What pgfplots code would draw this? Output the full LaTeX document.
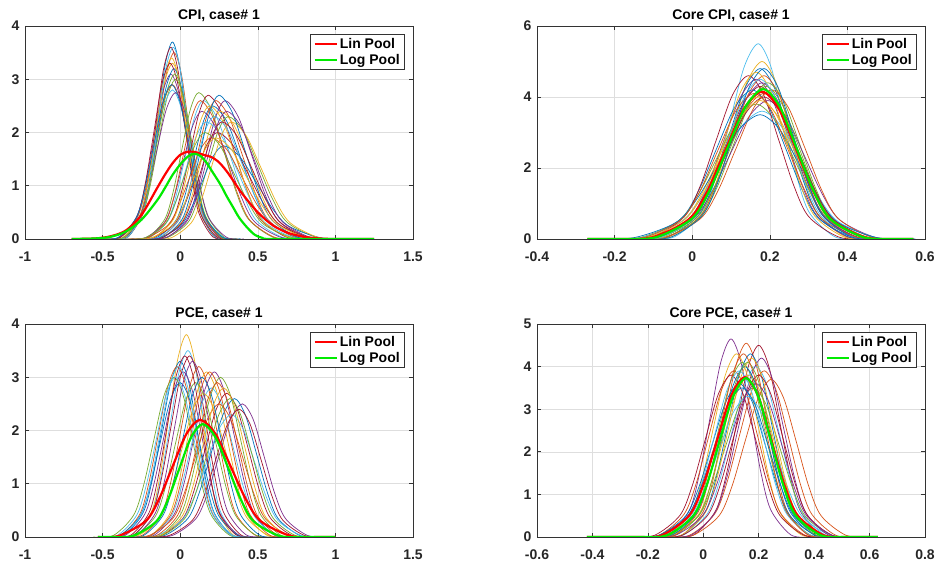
\documentclass[border=0pt]{standalone}
\usepackage{fontspec}
\setmainfont{Liberation Sans}
\usepackage{pgfplots}
\pgfplotsset{compat=1.18}
\definecolor{m1}{RGB}{0,114,189}
\definecolor{m2}{RGB}{217,83,25}
\definecolor{m3}{RGB}{237,177,32}
\definecolor{m4}{RGB}{126,47,142}
\definecolor{m5}{RGB}{119,172,48}
\definecolor{m6}{RGB}{77,190,238}
\definecolor{m7}{RGB}{162,20,47}
\newcommand\ff{\fontsize{14}{16}\selectfont\bfseries}
\newcommand{\cv}[2]{\addplot[color=#1, line width=0.7pt, smooth, forget plot] coordinates {#2};}
\pgfplotsset{
 panel/.style={scale only axis, width=388pt, height=213pt, anchor=south west,
  axis background/.style={fill=white},
  grid=major, grid style={black!13, line width=0.5pt},
  axis line style={black!80, line width=0.6pt},
  major tick style={black!80, line width=0.6pt}, major tick length=4pt, tick align=inside,
  ticklabel style={font=\ff, text=black!85},
  xticklabel style={yshift=-9pt}, yticklabel style={xshift=-2pt},
  title style={font=\ff, yshift=-5pt},
  legend style={at={(1,1)}, anchor=north east, xshift=-8pt, yshift=-8pt, draw=black!80, line width=0.6pt, font=\ff, inner xsep=3pt, inner ysep=2pt, row sep=0pt},
  legend cell align=left,
  legend image code/.code={\draw[##1] (0pt,0pt) -- (22pt,0pt);},
 },
 lin/.style={color=red, line width=2.2pt, smooth},
 log/.style={color={rgb,255:red,0;green,235;blue,0}, line width=2.2pt, smooth},
}
\begin{document}
\begin{tikzpicture}
\path[use as bounding box] (0pt,0pt) rectangle (940pt,567pt);
% ---------------- CPI ----------------
\begin{axis}[panel, at={(25pt,328pt)}, title={CPI, case\# 1},
 xmin=-1, xmax=1.5, ymin=0, ymax=4,
 xtick={-1,-0.5,0,0.5,1,1.5}, xticklabels={-1,-0.5,0,0.5,1,1.5},
 ytick={0,1,2,3,4}, yticklabels={0,1,2,3,4}]
\cv{m1}{(-0.43,0)(-0.335,0.04)(-0.24,0.50)(-0.193,1.20)(-0.145,2.25)(-0.098,3.26)(-0.05,3.7)(-0.005,3.26)(0.04,2.25)(0.085,1.20)(0.13,0.50)(0.22,0.04)(0.31,0)}
\cv{m2}{(-0.44,0)(-0.34,0.04)(-0.24,0.47)(-0.19,1.14)(-0.14,2.12)(-0.09,3.09)(-0.04,3.5)(0.008,3.09)(0.055,2.12)(0.103,1.14)(0.15,0.47)(0.245,0.04)(0.34,0)}
\cv{m3}{(-0.47,0)(-0.365,0.04)(-0.26,0.45)(-0.208,1.07)(-0.155,2.00)(-0.103,2.91)(-0.05,3.3)(0.0,2.91)(0.05,2.00)(0.1,1.07)(0.15,0.45)(0.25,0.04)(0.35,0)}
\cv{m4}{(-0.50,0)(-0.39,0.03)(-0.28,0.42)(-0.225,1.01)(-0.17,1.88)(-0.115,2.73)(-0.06,3.1)(-0.008,2.73)(0.045,1.88)(0.098,1.01)(0.15,0.42)(0.255,0.03)(0.36,0)}
\cv{m5}{(-0.47,0)(-0.36,0.03)(-0.25,0.41)(-0.195,0.98)(-0.14,1.82)(-0.085,2.65)(-0.03,3.0)(0.023,2.65)(0.075,1.82)(0.128,0.98)(0.18,0.41)(0.285,0.03)(0.39,0)}
\cv{m6}{(-0.51,0)(-0.395,0.03)(-0.28,0.38)(-0.223,0.91)(-0.165,1.70)(-0.108,2.47)(-0.05,2.8)(0.005,2.47)(0.06,1.70)(0.115,0.91)(0.17,0.38)(0.28,0.03)(0.39,0)}
\cv{m7}{(-0.44,0)(-0.345,0.04)(-0.25,0.49)(-0.203,1.17)(-0.155,2.19)(-0.108,3.18)(-0.06,3.6)(-0.015,3.18)(0.03,2.19)(0.075,1.17)(0.12,0.49)(0.21,0.04)(0.30,0)}
\cv{m1}{(-0.46,0)(-0.355,0.04)(-0.25,0.43)(-0.198,1.04)(-0.145,1.94)(-0.093,2.82)(-0.04,3.2)(0.01,2.82)(0.06,1.94)(0.11,1.04)(0.16,0.43)(0.26,0.04)(0.36,0)}
\cv{m2}{(-0.51,0)(-0.395,0.03)(-0.28,0.39)(-0.223,0.94)(-0.165,1.76)(-0.108,2.56)(-0.05,2.9)(0.003,2.56)(0.055,1.76)(0.108,0.94)(0.16,0.39)(0.265,0.03)(0.37,0)}
\cv{m3}{(-0.455,0)(-0.355,0.04)(-0.255,0.46)(-0.205,1.11)(-0.155,2.06)(-0.105,3.00)(-0.055,3.4)(-0.008,3.00)(0.04,2.06)(0.088,1.11)(0.135,0.46)(0.23,0.04)(0.325,0)}
\cv{m4}{(-0.51,0)(-0.39,0.03)(-0.27,0.37)(-0.21,0.89)(-0.15,1.67)(-0.09,2.43)(-0.03,2.75)(0.025,2.43)(0.08,1.67)(0.135,0.89)(0.19,0.37)(0.30,0.03)(0.41,0)}
\cv{m6}{(-0.437,0)(-0.339,0.04)(-0.241,0.49)(-0.192,1.17)(-0.143,2.19)(-0.094,3.18)(-0.045,3.6)(0.001,3.18)(0.047,2.19)(0.093,1.17)(0.139,0.49)(0.231,0.04)(0.323,0)}
\cv{m7}{(-0.485,0)(-0.38,0.04)(-0.275,0.45)(-0.223,1.07)(-0.17,2.00)(-0.118,2.91)(-0.065,3.3)(-0.015,2.91)(0.035,2.00)(0.085,1.07)(0.135,0.45)(0.235,0.04)(0.335,0)}
\cv{m5}{(-0.475,0)(-0.365,0.03)(-0.255,0.42)(-0.2,1.01)(-0.145,1.88)(-0.09,2.73)(-0.035,3.1)(0.015,2.73)(0.065,1.88)(0.115,1.01)(0.165,0.42)(0.265,0.03)(0.365,0)}
\cv{m1}{(-0.515,0)(-0.40,0.03)(-0.285,0.39)(-0.228,0.94)(-0.17,1.76)(-0.113,2.56)(-0.055,2.9)(0.0,2.56)(0.055,1.76)(0.11,0.94)(0.165,0.39)(0.275,0.03)(0.385,0)}
\cv{m5}{(-0.32,0)(-0.21,0.03)(-0.10,0.37)(-0.045,0.89)(0.01,1.67)(0.065,2.43)(0.12,2.75)(0.20,2.43)(0.28,1.67)(0.36,0.89)(0.44,0.37)(0.60,0.03)(0.76,0)}
\cv{m6}{(-0.31,0)(-0.195,0.03)(-0.08,0.35)(-0.023,0.85)(0.035,1.58)(0.093,2.29)(0.15,2.6)(0.235,2.29)(0.32,1.58)(0.405,0.85)(0.49,0.35)(0.66,0.03)(0.83,0)}
\cv{m7}{(-0.28,0)(-0.165,0.03)(-0.05,0.36)(0.008,0.88)(0.065,1.64)(0.123,2.38)(0.18,2.7)(0.265,2.38)(0.35,1.64)(0.435,0.88)(0.52,0.36)(0.69,0.03)(0.86,0)}
\cv{m1}{(-0.27,0)(-0.15,0.03)(-0.03,0.34)(0.03,0.81)(0.09,1.52)(0.15,2.21)(0.21,2.5)(0.30,2.21)(0.39,1.52)(0.48,0.81)(0.57,0.34)(0.75,0.03)(0.93,0)}
\cv{m2}{(-0.25,0)(-0.13,0.03)(-0.01,0.35)(0.05,0.85)(0.11,1.58)(0.17,2.29)(0.23,2.6)(0.315,2.29)(0.40,1.58)(0.485,0.85)(0.57,0.35)(0.74,0.03)(0.91,0)}
\cv{m3}{(-0.24,0)(-0.115,0.03)(0.01,0.32)(0.073,0.78)(0.135,1.46)(0.198,2.12)(0.26,2.4)(0.35,2.12)(0.44,1.46)(0.53,0.78)(0.62,0.32)(0.80,0.03)(0.98,0)}
\cv{m4}{(-0.21,0)(-0.085,0.03)(0.04,0.35)(0.103,0.85)(0.165,1.58)(0.228,2.29)(0.29,2.6)(0.375,2.29)(0.46,1.58)(0.545,0.85)(0.63,0.35)(0.80,0.03)(0.97,0)}
\cv{m5}{(-0.21,0)(-0.08,0.03)(0.05,0.31)(0.115,0.75)(0.18,1.40)(0.245,2.03)(0.31,2.3)(0.405,2.03)(0.50,1.40)(0.595,0.75)(0.69,0.31)(0.88,0.03)(1.07,0)}
\cv{m6}{(-0.35,0)(-0.22,0.02)(-0.09,0.30)(-0.025,0.72)(0.04,1.34)(0.105,1.94)(0.17,2.2)(0.265,1.94)(0.36,1.34)(0.455,0.72)(0.55,0.30)(0.74,0.02)(0.93,0)}
\cv{m7}{(-0.32,0)(-0.18,0.02)(-0.04,0.27)(0.03,0.65)(0.10,1.21)(0.17,1.76)(0.24,2.0)(0.34,1.76)(0.44,1.21)(0.54,0.65)(0.64,0.27)(0.84,0.02)(1.04,0)}
\cv{m1}{(-0.28,0)(-0.14,0.02)(0.0,0.24)(0.07,0.57)(0.14,1.06)(0.21,1.54)(0.28,1.75)(0.385,1.54)(0.49,1.06)(0.595,0.57)(0.70,0.24)(0.91,0.02)(1.12,0)}
\cv{m2}{(-0.36,0)(-0.22,0.02)(-0.08,0.26)(-0.01,0.62)(0.06,1.15)(0.13,1.68)(0.20,1.9)(0.30,1.68)(0.40,1.15)(0.50,0.62)(0.60,0.26)(0.80,0.02)(1.00,0)}
\cv{m3}{(-0.19,0)(-0.06,0.02)(0.07,0.30)(0.135,0.72)(0.20,1.34)(0.265,1.94)(0.33,2.2)(0.425,1.94)(0.52,1.34)(0.615,0.72)(0.71,0.30)(0.90,0.02)(1.09,0)}
\cv{m4}{(-0.34,0)(-0.22,0.03)(-0.10,0.32)(-0.04,0.78)(0.02,1.46)(0.08,2.12)(0.14,2.4)(0.225,2.12)(0.31,1.46)(0.395,0.78)(0.48,0.32)(0.65,0.03)(0.82,0)}
\cv{m2}{(-0.31,0)(-0.20,0.03)(-0.09,0.35)(-0.035,0.85)(0.02,1.58)(0.075,2.29)(0.13,2.6)(0.21,2.29)(0.29,1.58)(0.37,0.85)(0.45,0.35)(0.61,0.03)(0.77,0)}
\cv{m3}{(-0.29,0)(-0.17,0.03)(-0.05,0.34)(0.01,0.81)(0.07,1.52)(0.13,2.21)(0.19,2.5)(0.275,2.21)(0.36,1.52)(0.445,0.81)(0.53,0.34)(0.70,0.03)(0.87,0)}
\cv{m6}{(-0.26,0)(-0.14,0.03)(-0.02,0.31)(0.04,0.75)(0.10,1.40)(0.16,2.03)(0.22,2.3)(0.31,2.03)(0.40,1.40)(0.49,0.75)(0.58,0.31)(0.76,0.03)(0.94,0)}
\cv{m1}{(-0.23,0)(-0.11,0.03)(0.01,0.36)(0.07,0.88)(0.13,1.64)(0.19,2.38)(0.25,2.7)(0.335,2.38)(0.42,1.64)(0.505,0.88)(0.59,0.36)(0.76,0.03)(0.93,0)}
\cv{m7}{(-0.25,0)(-0.12,0.02)(0.01,0.30)(0.075,0.72)(0.14,1.34)(0.205,1.94)(0.27,2.2)(0.365,1.94)(0.46,1.34)(0.555,0.72)(0.65,0.30)(0.84,0.02)(1.03,0)}
\cv{m5}{(-0.36,0)(-0.23,0.02)(-0.10,0.27)(-0.035,0.65)(0.03,1.21)(0.095,1.76)(0.16,2.0)(0.255,1.76)(0.35,1.21)(0.445,0.65)(0.54,0.27)(0.73,0.02)(0.92,0)}
\cv{m4}{(-0.22,0)(-0.09,0.03)(0.04,0.32)(0.105,0.78)(0.17,1.46)(0.235,2.12)(0.30,2.4)(0.39,2.12)(0.48,1.46)(0.57,0.78)(0.66,0.32)(0.84,0.03)(1.02,0)}
\cv{m3}{(-0.33,0)(-0.19,0.02)(-0.05,0.26)(0.02,0.62)(0.09,1.15)(0.16,1.68)(0.23,1.9)(0.33,1.68)(0.43,1.15)(0.53,0.62)(0.63,0.26)(0.83,0.02)(1.03,0)}
\addplot[lin] coordinates {(-0.7,0)(-0.55,0.01)(-0.45,0.05)(-0.35,0.16)(-0.25,0.45)(-0.15,0.95)(-0.1,1.2)(-0.05,1.42)(0,1.58)(0.05,1.64)(0.1,1.63)(0.15,1.58)(0.2,1.54)(0.25,1.44)(0.3,1.27)(0.35,1.06)(0.4,0.85)(0.5,0.5)(0.6,0.25)(0.7,0.11)(0.8,0.04)(0.9,0.01)(1.0,0)(1.25,0)};
\addlegendentry{Lin Pool}
\addplot[log] coordinates {(-0.7,0)(-0.55,0.01)(-0.45,0.04)(-0.35,0.14)(-0.25,0.36)(-0.15,0.72)(-0.1,0.95)(-0.05,1.2)(0,1.4)(0.05,1.55)(0.09,1.6)(0.13,1.56)(0.17,1.43)(0.21,1.25)(0.26,1.02)(0.3,0.8)(0.34,0.6)(0.38,0.4)(0.43,0.22)(0.48,0.08)(0.53,0.02)(0.6,0.0)(1.25,0)};
\addlegendentry{Log Pool}
\end{axis}
% ---------------- Core CPI ----------------
\begin{axis}[panel, at={(537pt,328pt)}, title={Core CPI, case\# 1},
 xmin=-0.4, xmax=0.6, ymin=0, ymax=6,
 xtick={-0.4,-0.2,0,0.2,0.4,0.6}, xticklabels={-0.4,-0.2,0,0.2,0.4,0.6},
 ytick={0,2,4,6}, yticklabels={0,2,4,6}]
\cv{m6}{(-0.118,0)(-0.046,0.06)(0.026,0.74)(0.062,1.79)(0.098,3.34)(0.134,4.85)(0.17,5.5)(0.203,4.85)(0.236,3.34)(0.269,1.79)(0.302,0.74)(0.368,0.06)(0.434,0)}
\cv{m3}{(-0.132,0)(-0.054,0.06)(0.024,0.68)(0.063,1.63)(0.102,3.04)(0.141,4.41)(0.18,5.0)(0.216,4.41)(0.252,3.04)(0.288,1.63)(0.324,0.68)(0.396,0.06)(0.468,0)}
\cv{m1}{(-0.145,0)(-0.065,0.05)(0.015,0.65)(0.055,1.56)(0.095,2.91)(0.135,4.23)(0.175,4.8)(0.213,4.23)(0.251,2.91)(0.289,1.56)(0.327,0.65)(0.403,0.05)(0.479,0)}
\cv{m2}{(-0.147,0)(-0.064,0.05)(0.019,0.62)(0.061,1.50)(0.102,2.79)(0.144,4.06)(0.185,4.6)(0.224,4.06)(0.263,2.79)(0.302,1.50)(0.341,0.62)(0.419,0.05)(0.497,0)}
\cv{m4}{(-0.175,0)(-0.09,0.05)(-0.005,0.61)(0.038,1.46)(0.08,2.73)(0.123,3.97)(0.165,4.5)(0.205,3.97)(0.245,2.73)(0.285,1.46)(0.325,0.61)(0.405,0.05)(0.485,0)}
\cv{m5}{(-0.157,0)(-0.069,0.05)(0.019,0.59)(0.063,1.43)(0.107,2.67)(0.151,3.88)(0.195,4.4)(0.236,3.88)(0.277,2.67)(0.318,1.43)(0.359,0.59)(0.441,0.05)(0.523,0)}
\cv{m7}{(-0.185,0)(-0.095,0.05)(-0.005,0.58)(0.04,1.40)(0.085,2.61)(0.13,3.79)(0.175,4.3)(0.217,3.79)(0.259,2.61)(0.301,1.40)(0.343,0.58)(0.427,0.05)(0.511,0)}
\cv{m1}{(-0.213,0)(-0.121,0.05)(-0.029,0.57)(0.017,1.37)(0.063,2.55)(0.109,3.70)(0.155,4.2)(0.198,3.70)(0.241,2.55)(0.284,1.37)(0.327,0.57)(0.413,0.05)(0.499,0)}
\cv{m2}{(-0.191,0)(-0.097,0.05)(-0.003,0.55)(0.044,1.33)(0.091,2.49)(0.138,3.62)(0.185,4.1)(0.229,3.62)(0.273,2.49)(0.317,1.33)(0.361,0.55)(0.449,0.05)(0.537,0)}
\cv{m3}{(-0.214,0)(-0.118,0.04)(-0.022,0.54)(0.026,1.30)(0.074,2.43)(0.122,3.53)(0.17,4.0)(0.215,3.53)(0.26,2.43)(0.305,1.30)(0.35,0.54)(0.44,0.04)(0.53,0)}
\cv{m4}{(-0.197,0)(-0.099,0.04)(-0.001,0.53)(0.048,1.27)(0.097,2.37)(0.146,3.44)(0.195,3.9)(0.242,3.44)(0.288,2.37)(0.335,1.27)(0.381,0.53)(0.474,0.04)(0.567,0)}
\cv{m5}{(-0.235,0)(-0.135,0.04)(-0.035,0.51)(0.015,1.24)(0.065,2.31)(0.115,3.35)(0.165,3.8)(0.213,3.35)(0.26,2.31)(0.308,1.24)(0.355,0.51)(0.45,0.04)(0.545,0)}
\cv{m6}{(-0.236,0)(-0.132,0.04)(-0.028,0.49)(0.024,1.17)(0.076,2.19)(0.128,3.18)(0.18,3.6)(0.229,3.18)(0.278,2.19)(0.327,1.17)(0.376,0.49)(0.474,0.04)(0.572,0)}
\cv{m7}{(-0.187,0)(-0.104,0.05)(-0.021,0.62)(0.021,1.50)(0.062,2.79)(0.104,4.06)(0.145,4.6)(0.184,4.06)(0.223,2.79)(0.262,1.50)(0.301,0.62)(0.379,0.05)(0.457,0)}
\cv{m2}{(-0.163,0)(-0.071,0.05)(0.021,0.57)(0.067,1.37)(0.113,2.55)(0.159,3.70)(0.205,4.2)(0.248,3.70)(0.291,2.55)(0.334,1.37)(0.377,0.57)(0.463,0.05)(0.549,0)}
\cv{m1}{(-0.257,0)(-0.149,0.04)(-0.041,0.47)(0.013,1.14)(0.067,2.12)(0.121,3.09)(0.175,3.5)(0.225,3.09)(0.275,2.12)(0.325,1.14)(0.375,0.47)(0.475,0.04)(0.575,0)}
\cv{m3}{(-0.155,0)(-0.075,0.05)(0.005,0.63)(0.045,1.53)(0.085,2.85)(0.125,4.15)(0.165,4.7)(0.203,4.15)(0.241,2.85)(0.279,1.53)(0.317,0.63)(0.393,0.05)(0.469,0)}
\cv{m4}{(-0.172,0)(-0.084,0.05)(0.004,0.59)(0.048,1.43)(0.092,2.67)(0.136,3.88)(0.18,4.4)(0.221,3.88)(0.262,2.67)(0.303,1.43)(0.344,0.59)(0.426,0.05)(0.508,0)}
\cv{m5}{(-0.17,0)(-0.08,0.05)(0.01,0.58)(0.055,1.40)(0.10,2.61)(0.145,3.79)(0.19,4.3)(0.232,3.79)(0.274,2.61)(0.316,1.40)(0.358,0.58)(0.442,0.05)(0.526,0)}
\cv{m6}{(-0.165,0)(-0.08,0.05)(0.005,0.61)(0.048,1.46)(0.09,2.73)(0.133,3.97)(0.175,4.5)(0.215,3.97)(0.255,2.73)(0.295,1.46)(0.335,0.61)(0.415,0.05)(0.495,0)}
\cv{m7}{(-0.199,0)(-0.103,0.04)(-0.007,0.54)(0.041,1.30)(0.089,2.43)(0.137,3.53)(0.185,4.0)(0.23,3.53)(0.275,2.43)(0.32,1.30)(0.365,0.54)(0.455,0.04)(0.545,0)}
\cv{m2}{(-0.216,0)(-0.122,0.05)(-0.028,0.55)(0.019,1.33)(0.066,2.49)(0.113,3.62)(0.16,4.1)(0.204,3.62)(0.248,2.49)(0.292,1.33)(0.336,0.55)(0.424,0.05)(0.512,0)}
\cv{m3}{(-0.217,0)(-0.119,0.04)(-0.021,0.53)(0.028,1.27)(0.077,2.37)(0.126,3.44)(0.175,3.9)(0.222,3.44)(0.268,2.37)(0.315,1.27)(0.361,0.53)(0.454,0.04)(0.547,0)}
\cv{m1}{(-0.135,0)(-0.055,0.05)(0.025,0.65)(0.065,1.56)(0.105,2.91)(0.145,4.23)(0.185,4.8)(0.223,4.23)(0.261,2.91)(0.299,1.56)(0.337,0.65)(0.413,0.05)(0.489,0)}
\addplot[lin] coordinates {(-0.27,0)(-0.196,0.001)(-0.102,0.05)(-0.008,0.56)(0.039,1.35)(0.086,2.52)(0.133,3.66)(0.18,4.15)(0.224,3.66)(0.268,2.52)(0.312,1.35)(0.356,0.56)(0.444,0.05)(0.532,0.001)(0.57,0)};
\addlegendentry{Lin Pool}
\addplot[log] coordinates {(-0.27,0)(-0.185,0.001)(-0.093,0.05)(-0.001,0.57)(0.045,1.37)(0.091,2.56)(0.137,3.72)(0.183,4.22)(0.226,3.72)(0.269,2.56)(0.312,1.37)(0.355,0.57)(0.441,0.05)(0.527,0.001)(0.57,0)};
\addlegendentry{Log Pool}
\end{axis}
% ---------------- PCE ----------------
\begin{axis}[panel, at={(25pt,30pt)}, title={PCE, case\# 1},
 xmin=-1, xmax=1.5, ymin=0, ymax=4,
 xtick={-1,-0.5,0,0.5,1,1.5}, xticklabels={-1,-0.5,0,0.5,1,1.5},
 ytick={0,1,2,3,4}, yticklabels={0,1,2,3,4}]
\cv{m3}{(-0.40,0)(-0.29,0.04)(-0.18,0.51)(-0.125,1.24)(-0.07,2.31)(-0.015,3.35)(0.04,3.8)(0.09,3.35)(0.14,2.31)(0.19,1.24)(0.24,0.51)(0.34,0.04)(0.44,0)}
\cv{m1}{(-0.48,0)(-0.36,0.04)(-0.24,0.45)(-0.18,1.07)(-0.12,2.00)(-0.06,2.91)(0,3.3)(0.055,2.91)(0.11,2.00)(0.165,1.07)(0.22,0.45)(0.33,0.04)(0.44,0)}
\cv{m2}{(-0.50,0)(-0.38,0.04)(-0.26,0.43)(-0.20,1.04)(-0.14,1.94)(-0.08,2.82)(-0.02,3.2)(0.038,2.82)(0.095,1.94)(0.153,1.04)(0.21,0.43)(0.325,0.04)(0.44,0)}
\cv{m6}{(-0.41,0)(-0.295,0.04)(-0.18,0.47)(-0.123,1.14)(-0.065,2.12)(-0.008,3.09)(0.05,3.5)(0.103,3.09)(0.155,2.12)(0.208,1.14)(0.26,0.47)(0.365,0.04)(0.47,0)}
\cv{m4}{(-0.48,0)(-0.355,0.03)(-0.23,0.42)(-0.168,1.01)(-0.105,1.88)(-0.043,2.73)(0.02,3.1)(0.08,2.73)(0.14,1.88)(0.20,1.01)(0.26,0.42)(0.38,0.03)(0.50,0)}
\cv{m5}{(-0.56,0)(-0.43,0.03)(-0.30,0.41)(-0.235,0.98)(-0.17,1.82)(-0.105,2.65)(-0.04,3.0)(0.02,2.65)(0.08,1.82)(0.14,0.98)(0.20,0.41)(0.32,0.03)(0.44,0)}
\cv{m7}{(-0.42,0)(-0.30,0.04)(-0.18,0.46)(-0.12,1.11)(-0.06,2.06)(0.0,3.00)(0.06,3.4)(0.115,3.00)(0.17,2.06)(0.225,1.11)(0.28,0.46)(0.39,0.04)(0.50,0)}
\cv{m1}{(-0.52,0)(-0.39,0.03)(-0.26,0.39)(-0.195,0.94)(-0.13,1.76)(-0.065,2.56)(0,2.9)(0.063,2.56)(0.125,1.76)(0.188,0.94)(0.25,0.39)(0.375,0.03)(0.50,0)}
\cv{m2}{(-0.36,0)(-0.24,0.04)(-0.12,0.43)(-0.06,1.04)(0.0,1.94)(0.06,2.82)(0.12,3.2)(0.18,2.82)(0.24,1.94)(0.30,1.04)(0.36,0.43)(0.48,0.04)(0.60,0)}
\cv{m3}{(-0.31,0)(-0.19,0.03)(-0.07,0.42)(-0.01,1.01)(0.05,1.88)(0.11,2.73)(0.17,3.1)(0.235,2.73)(0.30,1.88)(0.365,1.01)(0.43,0.42)(0.56,0.03)(0.69,0)}
\cv{m4}{(-0.30,0)(-0.17,0.03)(-0.04,0.42)(0.025,1.01)(0.09,1.88)(0.155,2.73)(0.22,3.1)(0.285,2.73)(0.35,1.88)(0.415,1.01)(0.48,0.42)(0.61,0.03)(0.74,0)}
\cv{m5}{(-0.26,0)(-0.13,0.03)(0.0,0.41)(0.065,0.98)(0.13,1.82)(0.195,2.65)(0.26,3.0)(0.325,2.65)(0.39,1.82)(0.455,0.98)(0.52,0.41)(0.65,0.03)(0.78,0)}
\cv{m6}{(-0.32,0)(-0.19,0.03)(-0.06,0.38)(0.005,0.91)(0.07,1.70)(0.135,2.47)(0.20,2.8)(0.27,2.47)(0.34,1.70)(0.41,0.91)(0.48,0.38)(0.62,0.03)(0.76,0)}
\cv{m7}{(-0.26,0)(-0.12,0.03)(0.02,0.36)(0.09,0.88)(0.16,1.64)(0.23,2.38)(0.30,2.7)(0.37,2.38)(0.44,1.64)(0.51,0.88)(0.58,0.36)(0.72,0.03)(0.86,0)}
\cv{m1}{(-0.25,0)(-0.10,0.03)(0.05,0.35)(0.125,0.85)(0.20,1.58)(0.275,2.29)(0.35,2.6)(0.42,2.29)(0.49,1.58)(0.56,0.85)(0.63,0.35)(0.77,0.03)(0.91,0)}
\cv{m4}{(-0.20,0)(-0.05,0.03)(0.10,0.34)(0.175,0.81)(0.25,1.52)(0.325,2.21)(0.40,2.5)(0.47,2.21)(0.54,1.52)(0.61,0.81)(0.68,0.34)(0.82,0.03)(0.96,0)}
\cv{m2}{(-0.35,0)(-0.20,0.03)(-0.05,0.34)(0.025,0.81)(0.10,1.52)(0.175,2.21)(0.25,2.5)(0.325,2.21)(0.40,1.52)(0.475,0.81)(0.55,0.34)(0.70,0.03)(0.85,0)}
\cv{m3}{(-0.41,0)(-0.27,0.03)(-0.13,0.36)(-0.06,0.88)(0.01,1.64)(0.08,2.38)(0.15,2.7)(0.22,2.38)(0.29,1.64)(0.36,0.88)(0.43,0.36)(0.57,0.03)(0.71,0)}
\cv{m6}{(-0.31,0)(-0.15,0.03)(0.01,0.31)(0.09,0.75)(0.17,1.40)(0.25,2.03)(0.33,2.3)(0.405,2.03)(0.48,1.40)(0.555,0.75)(0.63,0.31)(0.78,0.03)(0.93,0)}
\cv{m5}{(-0.42,0)(-0.29,0.03)(-0.16,0.39)(-0.095,0.94)(-0.03,1.76)(0.035,2.56)(0.10,2.9)(0.165,2.56)(0.23,1.76)(0.295,0.94)(0.36,0.39)(0.49,0.03)(0.62,0)}
\cv{m7}{(-0.43,0)(-0.315,0.04)(-0.20,0.46)(-0.143,1.11)(-0.085,2.06)(-0.028,3.00)(0.03,3.4)(0.085,3.00)(0.14,2.06)(0.195,1.11)(0.25,0.46)(0.36,0.04)(0.47,0)}
\cv{m6}{(-0.49,0)(-0.37,0.04)(-0.25,0.43)(-0.19,1.04)(-0.13,1.94)(-0.07,2.82)(-0.01,3.2)(0.048,2.82)(0.105,1.94)(0.163,1.04)(0.22,0.43)(0.335,0.04)(0.45,0)}
\cv{m4}{(-0.40,0)(-0.28,0.04)(-0.16,0.45)(-0.10,1.07)(-0.04,2.00)(0.02,2.91)(0.08,3.3)(0.138,2.91)(0.195,2.00)(0.253,1.07)(0.31,0.45)(0.425,0.04)(0.54,0)}
\cv{m1}{(-0.36,0)(-0.235,0.03)(-0.11,0.41)(-0.048,0.98)(0.015,1.82)(0.078,2.65)(0.14,3.0)(0.203,2.65)(0.265,1.82)(0.328,0.98)(0.39,0.41)(0.515,0.03)(0.64,0)}
\cv{m2}{(-0.28,0)(-0.15,0.03)(-0.02,0.39)(0.045,0.94)(0.11,1.76)(0.175,2.56)(0.24,2.9)(0.305,2.56)(0.37,1.76)(0.435,0.94)(0.50,0.39)(0.63,0.03)(0.76,0)}
\cv{m3}{(-0.26,0)(-0.125,0.03)(0.01,0.38)(0.078,0.91)(0.145,1.70)(0.213,2.47)(0.28,2.8)(0.348,2.47)(0.415,1.70)(0.483,0.91)(0.55,0.38)(0.685,0.03)(0.82,0)}
\cv{m5}{(-0.26,0)(-0.115,0.03)(0.03,0.35)(0.103,0.85)(0.175,1.58)(0.248,2.29)(0.32,2.6)(0.39,2.29)(0.46,1.58)(0.53,0.85)(0.60,0.35)(0.74,0.03)(0.88,0)}
\cv{m7}{(-0.22,0)(-0.07,0.03)(0.08,0.32)(0.155,0.78)(0.23,1.46)(0.305,2.12)(0.38,2.4)(0.45,2.12)(0.52,1.46)(0.59,0.78)(0.66,0.32)(0.80,0.03)(0.94,0)}
\cv{m2}{(-0.31,0)(-0.185,0.03)(-0.06,0.42)(0.003,1.01)(0.065,1.88)(0.128,2.73)(0.19,3.1)(0.255,2.73)(0.32,1.88)(0.385,1.01)(0.45,0.42)(0.58,0.03)(0.71,0)}
\cv{m6}{(-0.53,0)(-0.405,0.03)(-0.28,0.41)(-0.218,0.98)(-0.155,1.82)(-0.093,2.65)(-0.03,3.0)(0.03,2.65)(0.09,1.82)(0.15,0.98)(0.21,0.41)(0.33,0.03)(0.45,0)}
\addplot[lin] coordinates {(-0.53,0)(-0.397,0.02)(-0.222,0.30)(-0.135,0.72)(-0.047,1.34)(0.041,1.94)(0.128,2.2)(0.226,1.94)(0.323,1.34)(0.421,0.72)(0.518,0.30)(0.713,0.02)(0.908,0)(1.0,0)};
\addlegendentry{Lin Pool}
\addplot[log] coordinates {(-0.53,0)(-0.455,0.001)(-0.305,0.02)(-0.155,0.29)(-0.08,0.69)(-0.005,1.29)(0.07,1.87)(0.145,2.12)(0.228,1.87)(0.31,1.29)(0.393,0.69)(0.475,0.29)(0.64,0.02)(0.805,0.001)(1.0,0)};
\addlegendentry{Log Pool}
\end{axis}
% ---------------- Core PCE ----------------
\begin{axis}[panel, at={(537pt,30pt)}, title={Core PCE, case\# 1},
 xmin=-0.6, xmax=0.8, ymin=0, ymax=5,
 xtick={-0.6,-0.4,-0.2,0,0.2,0.4,0.6,0.8}, xticklabels={-0.6,-0.4,-0.2,0,0.2,0.4,0.6,0.8},
 ytick={0,1,2,3,4,5}, yticklabels={0,1,2,3,4,5}]
\cv{m4}{(-0.2,0)(-0.125,0.05)(-0.05,0.63)(-0.013,1.51)(0.025,2.82)(0.063,4.10)(0.1,4.65)(0.136,4.10)(0.172,2.82)(0.208,1.51)(0.244,0.63)(0.316,0.05)(0.388,0)}
\cv{m2}{(-0.153,0)(-0.076,0.05)(0.001,0.61)(0.04,1.48)(0.078,2.76)(0.117,4.01)(0.155,4.55)(0.192,4.01)(0.229,2.76)(0.266,1.48)(0.303,0.61)(0.377,0.05)(0.451,0)}
\cv{m7}{(-0.112,0)(-0.034,0.05)(0.044,0.61)(0.083,1.46)(0.122,2.73)(0.161,3.97)(0.2,4.5)(0.238,3.97)(0.275,2.73)(0.313,1.46)(0.35,0.61)(0.425,0.05)(0.5,0)}
\cv{m3}{(-0.208,0)(-0.126,0.05)(-0.044,0.58)(-0.003,1.40)(0.038,2.61)(0.079,3.79)(0.12,4.3)(0.159,3.79)(0.198,2.61)(0.237,1.40)(0.276,0.58)(0.354,0.05)(0.432,0)}
\cv{m1}{(-0.158,0)(-0.076,0.05)(0.006,0.58)(0.047,1.40)(0.088,2.61)(0.129,3.79)(0.17,4.3)(0.209,3.79)(0.248,2.61)(0.287,1.40)(0.326,0.58)(0.404,0.05)(0.482,0)}
\cv{m5}{(-0.204,0)(-0.118,0.05)(-0.032,0.55)(0.011,1.33)(0.054,2.49)(0.097,3.62)(0.14,4.1)(0.181,3.62)(0.222,2.49)(0.263,1.33)(0.304,0.55)(0.386,0.05)(0.468,0)}
\cv{m6}{(-0.162,0)(-0.074,0.04)(0.014,0.54)(0.058,1.30)(0.102,2.43)(0.146,3.53)(0.19,4.0)(0.232,3.53)(0.274,2.43)(0.316,1.30)(0.358,0.54)(0.442,0.04)(0.526,0)}
\cv{m2}{(-0.25,0)(-0.16,0.04)(-0.07,0.53)(-0.025,1.27)(0.02,2.37)(0.065,3.44)(0.11,3.9)(0.153,3.44)(0.196,2.37)(0.239,1.27)(0.282,0.53)(0.368,0.04)(0.454,0)}
\cv{m3}{(-0.203,0)(-0.111,0.04)(-0.019,0.51)(0.027,1.24)(0.073,2.31)(0.119,3.35)(0.165,3.8)(0.209,3.35)(0.253,2.31)(0.297,1.24)(0.341,0.51)(0.429,0.04)(0.517,0)}
\cv{m2}{(-0.14,0)(-0.05,0.04)(0.04,0.53)(0.085,1.27)(0.13,2.37)(0.175,3.44)(0.22,3.9)(0.263,3.44)(0.306,2.37)(0.349,1.27)(0.392,0.53)(0.478,0.04)(0.564,0)}
\cv{m1}{(-0.258,0)(-0.161,0.04)(-0.064,0.49)(-0.016,1.17)(0.033,2.19)(0.082,3.18)(0.13,3.6)(0.176,3.18)(0.222,2.19)(0.268,1.17)(0.314,0.49)(0.406,0.04)(0.498,0)}
\cv{m5}{(-0.22,0)(-0.12,0.04)(-0.02,0.47)(0.03,1.14)(0.08,2.12)(0.13,3.09)(0.18,3.5)(0.228,3.09)(0.275,2.12)(0.323,1.14)(0.37,0.47)(0.465,0.04)(0.56,0)}
\cv{m2}{(-0.131,0)(-0.037,0.04)(0.057,0.50)(0.104,1.20)(0.151,2.25)(0.198,3.26)(0.245,3.7)(0.29,3.26)(0.335,2.25)(0.38,1.20)(0.425,0.50)(0.515,0.04)(0.605,0)}
\cv{m6}{(-0.264,0)(-0.158,0.04)(-0.052,0.45)(0.001,1.07)(0.054,2.00)(0.107,2.91)(0.16,3.3)(0.21,2.91)(0.26,2.00)(0.31,1.07)(0.36,0.45)(0.46,0.04)(0.56,0)}
\cv{m7}{(-0.268,0)(-0.176,0.04)(-0.084,0.51)(-0.038,1.24)(0.008,2.31)(0.054,3.35)(0.1,3.8)(0.144,3.35)(0.188,2.31)(0.232,1.24)(0.276,0.51)(0.364,0.04)(0.452,0)}
\cv{m4}{(-0.126,0)(-0.042,0.05)(0.042,0.57)(0.084,1.37)(0.126,2.55)(0.168,3.70)(0.21,4.2)(0.25,3.70)(0.29,2.55)(0.33,1.37)(0.37,0.57)(0.45,0.05)(0.53,0)}
\cv{m1}{(-0.202,0)(-0.114,0.04)(-0.026,0.54)(0.018,1.30)(0.062,2.43)(0.106,3.53)(0.15,4.0)(0.192,3.53)(0.234,2.43)(0.276,1.30)(0.318,0.54)(0.402,0.04)(0.486,0)}
\cv{m3}{(-0.161,0)(-0.077,0.05)(0.007,0.57)(0.049,1.37)(0.091,2.55)(0.133,3.70)(0.175,4.2)(0.215,3.70)(0.255,2.55)(0.295,1.37)(0.335,0.57)(0.415,0.05)(0.495,0)}
\cv{m6}{(-0.23,0)(-0.14,0.04)(-0.05,0.53)(-0.005,1.27)(0.04,2.37)(0.085,3.44)(0.13,3.9)(0.173,3.44)(0.216,2.37)(0.259,1.27)(0.302,0.53)(0.388,0.04)(0.474,0)}
\cv{m7}{(-0.168,0)(-0.076,0.04)(0.016,0.51)(0.062,1.24)(0.108,2.31)(0.154,3.35)(0.2,3.8)(0.244,3.35)(0.288,2.31)(0.332,1.24)(0.376,0.51)(0.464,0.04)(0.552,0)}
\cv{m5}{(-0.184,0)(-0.098,0.05)(-0.012,0.55)(0.031,1.33)(0.074,2.49)(0.117,3.62)(0.16,4.1)(0.201,3.62)(0.242,2.49)(0.283,1.33)(0.324,0.55)(0.406,0.05)(0.488,0)}
\cv{m4}{(-0.198,0)(-0.101,0.04)(-0.004,0.49)(0.045,1.17)(0.093,2.19)(0.142,3.18)(0.19,3.6)(0.236,3.18)(0.282,2.19)(0.328,1.17)(0.374,0.49)(0.466,0.04)(0.558,0)}
\cv{m2}{(-0.183,0)(-0.101,0.05)(-0.019,0.58)(0.022,1.40)(0.063,2.61)(0.104,3.79)(0.145,4.3)(0.184,3.79)(0.223,2.61)(0.262,1.40)(0.301,0.58)(0.379,0.05)(0.457,0)}
\cv{m1}{(-0.26,0)(-0.16,0.04)(-0.06,0.47)(-0.01,1.14)(0.04,2.12)(0.09,3.09)(0.14,3.5)(0.188,3.09)(0.235,2.12)(0.283,1.14)(0.33,0.47)(0.425,0.04)(0.52,0)}
\addplot[lin] coordinates {(-0.42,0)(-0.25,0.001)(-0.15,0.04)(-0.05,0.51)(0.0,1.22)(0.05,2.28)(0.10,3.31)(0.15,3.75)(0.198,3.31)(0.245,2.28)(0.293,1.22)(0.34,0.51)(0.435,0.04)(0.53,0.001)(0.63,0)};
\addlegendentry{Lin Pool}
\addplot[log] coordinates {(-0.42,0)(-0.226,0.001)(-0.131,0.04)(-0.036,0.50)(0.012,1.21)(0.059,2.26)(0.107,3.29)(0.154,3.73)(0.199,3.29)(0.244,2.26)(0.289,1.21)(0.334,0.50)(0.424,0.04)(0.514,0.001)(0.63,0)};
\addlegendentry{Log Pool}
\end{axis}
\end{tikzpicture}
\end{document}
